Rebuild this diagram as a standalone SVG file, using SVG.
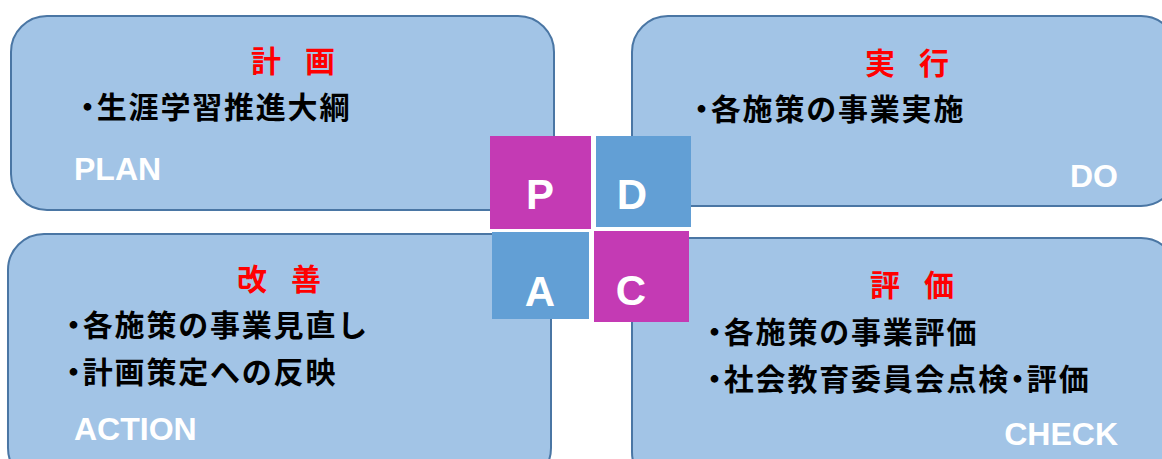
<svg xmlns="http://www.w3.org/2000/svg" width="1162" height="459" viewBox="0 0 1162 459">
<style>
.box{fill:#A2C4E6;stroke:#4A76A4;stroke-width:2}
.ttl{font-family:"Noto Sans CJK JP",sans-serif;font-weight:bold;font-size:30px;fill:#FF0000;letter-spacing:-3px}
.body{font-family:"Noto Sans CJK JP",sans-serif;font-weight:bold;font-size:30px;fill:#000;letter-spacing:1.8px}
.dot{font-feature-settings:"palt"}
.lbl{font-family:"Liberation Sans",Arial,sans-serif;font-weight:bold;font-size:32px;fill:#fff}
.sq-m{fill:#C43AB4}
.sq-b{fill:#629FD5}
.let{font-family:"Liberation Sans",Arial,sans-serif;font-weight:bold;font-size:42px;fill:#fff;text-anchor:middle}
</style>
<rect width="1162" height="459" fill="#fff"/>
<g id="plan">
<rect class="box" x="11" y="16" width="543" height="194" rx="36"/>
<text class="ttl" x="251" y="72">計　画</text>
<text class="body" x="80" y="118"><tspan class="dot">・</tspan>生涯学習推進大綱</text>
<text class="lbl" x="74" y="180">PLAN</text>
</g>
<g id="do">
<rect class="box" x="632" y="16" width="545" height="190" rx="36"/>
<text class="ttl" x="865" y="74">実　行</text>
<text class="body" x="694" y="120"><tspan class="dot">・</tspan>各施策の事業実施</text>
<text class="lbl" x="1118" y="187" text-anchor="end">DO</text>
</g>
<g id="action">
<rect class="box" x="8" y="234" width="543" height="250" rx="36"/>
<text class="ttl" x="237" y="290">改　善</text>
<text class="body" x="66" y="336"><tspan class="dot">・</tspan>各施策の事業見直し</text>
<text class="body" x="66" y="383"><tspan class="dot">・</tspan>計画策定への反映</text>
<text class="lbl" x="74" y="440">ACTION</text>
</g>
<g id="check">
<rect class="box" x="632" y="238" width="545" height="250" rx="36"/>
<text class="ttl" x="870" y="296">評　価</text>
<text class="body" x="707" y="343"><tspan class="dot">・</tspan>各施策の事業評価</text>
<text class="body" x="707" y="390"><tspan class="dot">・</tspan>社会教育委員会点検<tspan class="dot">・</tspan>評価</text>
<text class="lbl" x="1118" y="445" text-anchor="end">CHECK</text>
</g>
<g id="pdca">
<g id="p"><rect class="sq-m" x="490" y="136" width="101" height="93"/><text class="let" x="540" y="209">P</text></g>
<g id="d"><rect class="sq-b" x="596" y="136" width="95" height="91"/><text class="let" x="632" y="209">D</text></g>
<g id="a"><rect class="sq-b" x="492" y="232" width="97" height="87"/><text class="let" x="540" y="306">A</text></g>
<g id="c"><rect class="sq-m" x="594" y="231" width="95" height="91"/><text class="let" x="631" y="305">C</text></g>
</g>
<g id="connectors"></g>
</svg>
